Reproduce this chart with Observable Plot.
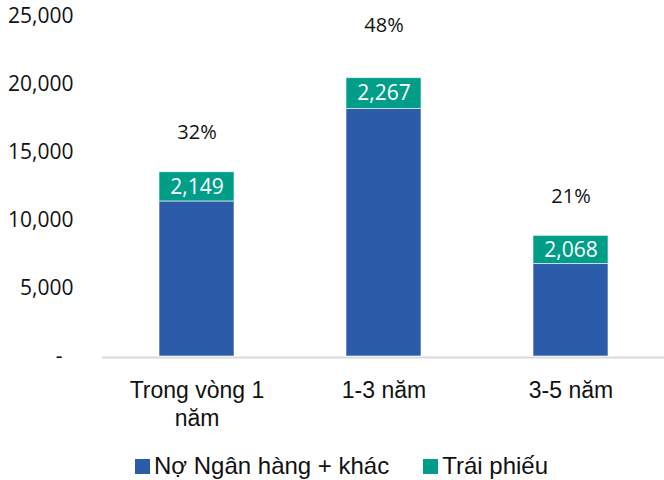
<!DOCTYPE html>
<html>
<head>
<meta charset="utf-8">
<script src="https://cdn.jsdelivr.net/npm/d3@7"></script>
<script src="https://cdn.jsdelivr.net/npm/@observablehq/plot@0.6"></script>
<style>
  html, body { margin: 0; padding: 0; background: #fff; }
  #chart { width: 664px; height: 480px; overflow: hidden; }
  .legend { display: flex; align-items: center; height: 32px; line-height: 32px;
    padding-left: 135px; font-family: "Liberation Sans", Arial, sans-serif; font-size: 24px; color: #111; }
  .legend .sw { display: inline-block; width: 15px; height: 15px; margin-right: 4px; }
  .legend .item { display: flex; align-items: center; }
  .legend .item + .item { margin-left: 34px; }
</style>
</head>
<body>
<div id="chart"></div>
<script>
const categories = ["Trong vòng 1\nnăm", "1-3 năm", "3-5 năm"];
const seriesNames = ["Nợ Ngân hàng + khác", "Trái phiếu"];
const bankDebt = [11400, 18200, 6800];
const bonds = [2149, 2267, 2068];
const shareLabels = ["32%", "48%", "21%"];
const shareLabelY = [16500, 24300, 11750];
const yTicks = [0, 5000, 10000, 15000, 20000, 25000];
const colors = ["#2C5CA9", "#009D88"];

const rows = [];
categories.forEach((c, i) => {
  rows.push({cat: c, series: seriesNames[0], value: bankDebt[i]});
  rows.push({cat: c, series: seriesNames[1], value: bonds[i]});
});
const shares = categories.map((c, i) => ({cat: c, label: shareLabels[i], y: shareLabelY[i]}));
const fmt = d3.format(",");
const numFont = "'Open Sans', 'Noto Sans', sans-serif";
const txtFont = "'Liberation Sans', Arial, sans-serif";

const chart = Plot.plot({
  width: 664,
  height: 450,
  marginTop: 16,
  marginBottom: 94,
  marginLeft: 102,
  marginRight: 0,
  style: {background: "white", color: "#111"},
  x: {domain: categories, paddingInner: 0.6, paddingOuter: 0.3, axis: null},
  y: {domain: [0, 25000], axis: null},
  color: {domain: seriesNames, range: colors},
  marks: [
    Plot.ruleY([0], {stroke: "#d9d9d9", strokeWidth: 2, dy: 1}),
    Plot.barY(rows, {x: "cat", y: "value", fill: "series", stroke: "white", strokeOpacity: 0.6, strokeWidth: 1}),
    Plot.text(rows, Plot.stackY({
      x: "cat", y: "value", z: "series",
      text: d => d.series === seriesNames[1] ? fmt(d.value) : "",
      fill: "white", fontSize: 21, fontFamily: numFont
    })),
    Plot.text(shares, {x: "cat", y: "y", text: "label", fontSize: 20, fontFamily: numFont, fill: "#111"}),
    Plot.axisY(yTicks, {
      tickSize: 0, tickPadding: 29, fontSize: 21, fontFamily: numFont, fill: "#111",
      tickFormat: d => d === 0 ? "-\u00a0\u00a0" : fmt(d), label: null
    }),
    Plot.axisX({
      tickSize: 0, tickPadding: 22, fontSize: 23, fontFamily: txtFont, fill: "#111",
      lineHeight: 1.22, label: null
    })
  ]
});
document.getElementById("chart").appendChild(chart);

const legend = document.createElement("div");
legend.className = "legend";
seriesNames.forEach((name, i) => {
  const item = document.createElement("span");
  item.className = "item";
  const sw = document.createElement("span");
  sw.className = "sw";
  sw.style.background = colors[i];
  item.appendChild(sw);
  item.appendChild(document.createTextNode(name));
  legend.appendChild(item);
});
document.getElementById("chart").appendChild(legend);
</script>
</body>
</html>
